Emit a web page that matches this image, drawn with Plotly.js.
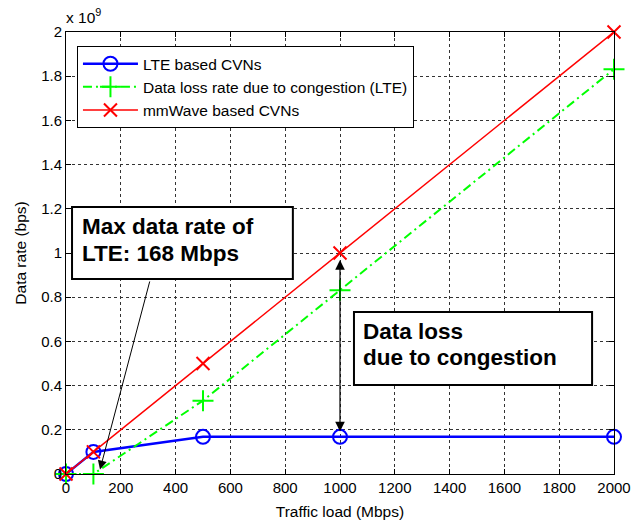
<!DOCTYPE html>
<html>
<head>
<meta charset="utf-8">
<script src="https://cdn.plot.ly/plotly-3.0.1.min.js"></script>
<style>html,body{margin:0;padding:0;background:#fff;}#chart{width:644px;height:525px;}</style>
</head>
<body>
<div id="chart"></div>
<script>
// Traffic load (Mbps)
var trafficLoad = [0, 100, 500, 1000, 2000];
// Data rates in units of 1e9 bps
var lteRate = [0, 0.1, 0.168, 0.168, 0.168];
var lossRate = [0, 0, 0.332, 0.832, 1.832];
var mmwRate = [0, 0.1, 0.5, 1.0, 2.0];
var seriesNames = ['LTE based CVNs', 'Data loss rate due to congestion (LTE)', 'mmWave based CVNs'];
var xTicks = [0, 200, 400, 600, 800, 1000, 1200, 1400, 1600, 1800, 2000];
var yTicks = [0, 0.2, 0.4, 0.6, 0.8, 1, 1.2, 1.4, 1.6, 1.8, 2];
var yTickText = ['0', '0.2', '0.4', '0.6', '0.8', '1', '1.2', '1.4', '1.6', '1.8', '2'];

var F = 'Liberation Sans, Arial, sans-serif';

var traces = [
  {x: trafficLoad, y: lteRate, name: seriesNames[0], mode: 'lines+markers', cliponaxis: false,
   line: {color: '#0000ff', width: 2.5},
   marker: {symbol: 'circle-open', size: 14, color: '#0000ff', line: {width: 2, color: '#0000ff'}}},
  {x: trafficLoad, y: lossRate, name: seriesNames[1], mode: 'lines+markers', cliponaxis: false,
   line: {color: '#00ff00', width: 2, dash: '9px,4px,2px,4px'},
   marker: {symbol: 'cross-thin-open', size: 15, color: '#00ff00', line: {width: 2, color: '#00ff00'}}},
  {x: trafficLoad, y: mmwRate, name: seriesNames[2], mode: 'lines+markers', cliponaxis: false,
   line: {color: '#ff0000', width: 1.5},
   marker: {symbol: 'x-thin-open', size: 13, color: '#ff0000', line: {width: 2, color: '#ff0000'}}}
];

var axisCommon = {
  showline: true, linecolor: '#000', linewidth: 1, mirror: 'ticks',
  ticks: 'inside', ticklen: 5, tickcolor: '#000',
  showgrid: true, gridcolor: '#333', griddash: 'dot', gridwidth: 1,
  zeroline: false, tickfont: {family: F, size: 15, color: '#000'}
};

var layout = {
  width: 644, height: 525,
  margin: {l: 66, r: 30, t: 32, b: 51},
  paper_bgcolor: '#fff', plot_bgcolor: '#fff',
  font: {family: F, color: '#000'},
  showlegend: true,
  legend: {x: 0.02, y: 0.968, xanchor: 'left', yanchor: 'top',
           bgcolor: '#fff', bordercolor: '#000', borderwidth: 1,
           font: {family: F, size: 15.5, color: '#000'}, tracegroupgap: 0, itemwidth: 55},
  xaxis: Object.assign({}, axisCommon, {
    range: [0, 2000], tickvals: xTicks, automargin: false,
    title: {text: 'Traffic load (Mbps)', font: {family: F, size: 15.5}, standoff: 11}
  }),
  yaxis: Object.assign({}, axisCommon, {
    range: [0, 2], tickvals: yTicks, ticktext: yTickText, automargin: false,
    title: {text: 'Data rate (bps)', font: {family: F, size: 15.5}, standoff: 10}
  }),
  shapes: [
    {type: 'rect', xref: 'x', yref: 'y', x0: 22, x1: 828, y0: 0.882, y1: 1.208,
     line: {color: '#000', width: 2}, fillcolor: '#fff', layer: 'above'},
    {type: 'rect', xref: 'x', yref: 'y', x0: 1051, x1: 1920, y0: 0.403, y1: 0.733,
     line: {color: '#000', width: 2}, fillcolor: '#fff', layer: 'above'}
  ],
  annotations: [
    {xref: 'paper', yref: 'paper', x: -0.004, y: 1.0, yshift: 4, xanchor: 'left', yanchor: 'bottom',
     text: 'x 10<sup>9</sup>', showarrow: false, font: {family: F, size: 15.5}},
    {xref: 'x', yref: 'y', x: 50, y: 1.118, xanchor: 'left', yanchor: 'middle',
     text: '<b>Max data rate of</b>', showarrow: false, font: {family: F, size: 22.5}},
    {xref: 'x', yref: 'y', x: 50, y: 1.0, xanchor: 'left', yanchor: 'middle',
     text: '<b>LTE: 168 Mbps</b>', showarrow: false, font: {family: F, size: 22.5}},
    {xref: 'x', yref: 'y', x: 1076, y: 0.643, xanchor: 'left', yanchor: 'middle',
     text: '<b>Data loss</b>', showarrow: false, font: {family: F, size: 22.5}},
    {xref: 'x', yref: 'y', x: 1076, y: 0.525, xanchor: 'left', yanchor: 'middle',
     text: '<b>due to congestion</b>', showarrow: false, font: {family: F, size: 22.5}},
    {xref: 'x', yref: 'y', axref: 'x', ayref: 'y', x: 124, y: 0.02, ax: 307, ay: 0.878,
     text: '', showarrow: true, arrowhead: 2, arrowsize: 1.8, arrowwidth: 1, arrowcolor: '#000'},
    {xref: 'x', yref: 'y', axref: 'x', ayref: 'y', x: 1000, y: 0.968, ax: 1000, ay: 0.186,
     text: '', showarrow: true, arrowhead: 2, startarrowhead: 2, arrowside: 'end+start',
     arrowsize: 1.6, startarrowsize: 1.6, arrowwidth: 1.2, arrowcolor: '#000'}
  ]
};

Plotly.newPlot('chart', traces, layout, {staticPlot: true, displayModeBar: false});
</script>
</body>
</html>
